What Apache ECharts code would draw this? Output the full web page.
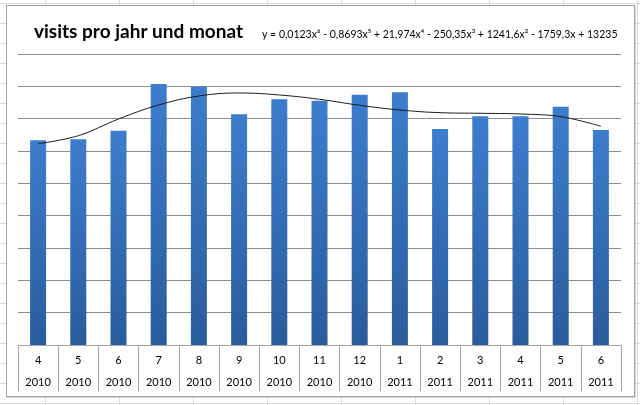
<!DOCTYPE html>
<html>
<head>
<meta charset="utf-8">
<script src="https://cdn.jsdelivr.net/npm/echarts@6/dist/echarts.min.js"></script>
<style>
html,body{margin:0;padding:0;width:640px;height:405px;overflow:hidden;background:#fff;}
body{
  background-image:
    repeating-linear-gradient(to right, transparent 0, transparent 45px, #d9dbde 45px, #d9dbde 46px, transparent 46px, transparent 74px),
    repeating-linear-gradient(to bottom, transparent 0, transparent 3px, #d9dbde 3px, #d9dbde 4px, transparent 4px, transparent 20px);
}
#box{position:absolute;left:6px;top:5px;width:627px;height:390px;background:#fff;border:1px solid #a3a3a3;box-shadow:1px 1px 1px rgba(0,0,0,0.15);}
#chart{position:absolute;left:0;top:0;width:640px;height:405px;}
</style>
</head>
<body>
<div id="box"></div>
<div id="chart"></div>
<script>
const months = ['4','5','6','7','8','9','10','11','12','1','2','3','4','5','6'];
const years = ['2010','2010','2010','2010','2010','2010','2010','2010','2010','2011','2011','2011','2011','2011','2011'];
const visits = [12663, 12725, 13257, 16146, 15979, 14271, 15199, 15113, 15484, 15632, 13362, 14147, 14147, 14742, 13300];
const trend = [12452, 12947, 13980, 14846, 15403, 15589, 15465, 15199, 14828, 14537, 14370, 14333, 14290, 14123, 13529];
const titleText = 'visits pro jahr und monat';
const equationText = 'y = 0,0123x\u2076 - 0,8693x\u2075 + 21,974x\u2074 - 250,35x\u00B3 + 1241,6x\u00B2 - 1759,3x + 13235';

const chart = echarts.init(document.getElementById('chart'), null, {renderer:'canvas'});
chart.setOption({
  backgroundColor: 'transparent',
  animation: false,
  title: [
    {text: titleText, left: 29, top: 17, textStyle: {fontFamily: 'Lato', fontWeight: 'bold', fontSize: 19, color: '#000'}},
    {text: equationText, left: 257, top: 24, textStyle: {fontFamily: 'Lato', fontWeight: 'normal', fontSize: 10.5, color: '#000'}}
  ],
  grid: {left: 18, right: 19, top: 54, bottom: 60, containLabel: false},
  xAxis: {
    type: 'category',
    data: months.map((m, i) => m + '\n' + years[i]),
    boundaryGap: true,
    axisLine: {show: true, lineStyle: {color: '#a6a6a6', width: 1}},
    axisTick: {show: true, alignWithLabel: false, length: 46, lineStyle: {color: '#a6a6a6'}},
    axisLabel: {interval: 0, margin: 4, lineHeight: 22, fontFamily: 'Lato', fontSize: 11, color: '#000'}
  },
  yAxis: {
    type: 'value', min: 0, max: 18000, interval: 2000,
    axisLabel: {show: false}, axisLine: {show: false}, axisTick: {show: false},
    splitLine: {show: true, lineStyle: {color: '#8c8c8c', width: 1}}
  },
  series: [
    {
      type: 'bar', data: visits, barWidth: 16,
      itemStyle: {color: new echarts.graphic.LinearGradient(0, 0, 0, 1, [
        {offset: 0, color: '#3d7dcd'}, {offset: 1, color: '#2a5c9c'}
      ])}
    },
    {
      type: 'line', data: trend, smooth: 0.4, symbol: 'none',
      lineStyle: {color: '#1a1a1a', width: 1}, z: 5
    }
  ]
});
</script>
</body>
</html>
